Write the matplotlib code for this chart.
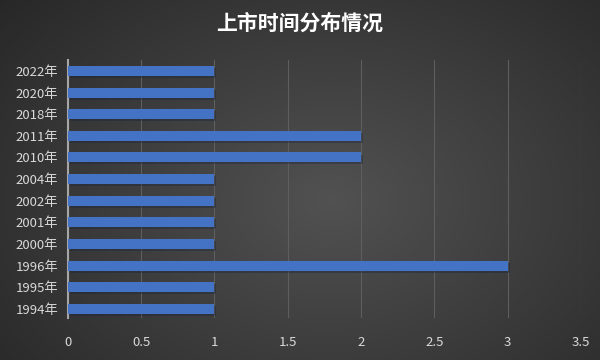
import numpy as np
import matplotlib.pyplot as plt
import matplotlib.patheffects as pe

plt.rcParams['font.family'] = ['Noto Sans CJK SC', 'DejaVu Sans']

# 上市时间分布
years = ['1994年', '1995年', '1996年', '2000年', '2001年', '2002年',
         '2004年', '2010年', '2011年', '2018年', '2020年', '2022年']
counts = [1, 1, 3, 1, 1, 1, 1, 2, 2, 1, 1, 1]
xticks = [0, 0.5, 1, 1.5, 2, 2.5, 3, 3.5]
xlabels = ['0', '0.5', '1', '1.5', '2', '2.5', '3', '3.5']

fig = plt.figure(figsize=(6, 3.6), dpi=100)

# fondo con degradado radial
bg = fig.add_axes([0, 0, 1, 1])
yy, xx = np.mgrid[0:360, 0:600]
d = np.sqrt(((xx - 330) / 420.0) ** 2 + ((yy - 200) / 300.0) ** 2)
g = np.clip(0.32 - 0.16 * d, 0.14, 0.32)
bg.imshow(np.dstack([g, g, g]), aspect='auto', extent=[0, 1, 0, 1])
bg.axis('off')

ax = fig.add_axes([0.113, 0.117, 0.855, 0.716])
ax.patch.set_alpha(0)
y = np.arange(len(years))
bars = ax.barh(y, counts, height=0.46, color='#4472C4', zorder=3)
for b in bars:
    b.set_path_effects([pe.SimplePatchShadow(offset=(1.5, -1.5), alpha=0.35), pe.Normal()])

ax.set_xlim(0, 3.5)
ax.set_ylim(-0.42, 11.5)
ax.set_xticks(xticks)
ax.set_xticklabels(xlabels)
ax.set_yticks(y)
ax.set_yticklabels(years)
ax.tick_params(axis='both', length=0, colors='#d9d9d9', labelsize=9.5)
ax.tick_params(axis='x', pad=13)
ax.tick_params(axis='y', pad=7)
ax.grid(axis='x', color='#5e5e5e', lw=0.8, zorder=0)
for s in ['top', 'right', 'bottom']:
    ax.spines[s].set_visible(False)
ax.spines['left'].set_color('#a6a6a6')
ax.spines['left'].set_linewidth(1.5)

fig.text(0.5, 0.935, '上市时间分布情况', ha='center', va='center',
         color='white', fontsize=15, fontweight='bold')

plt.savefig('out.png', dpi=100)
